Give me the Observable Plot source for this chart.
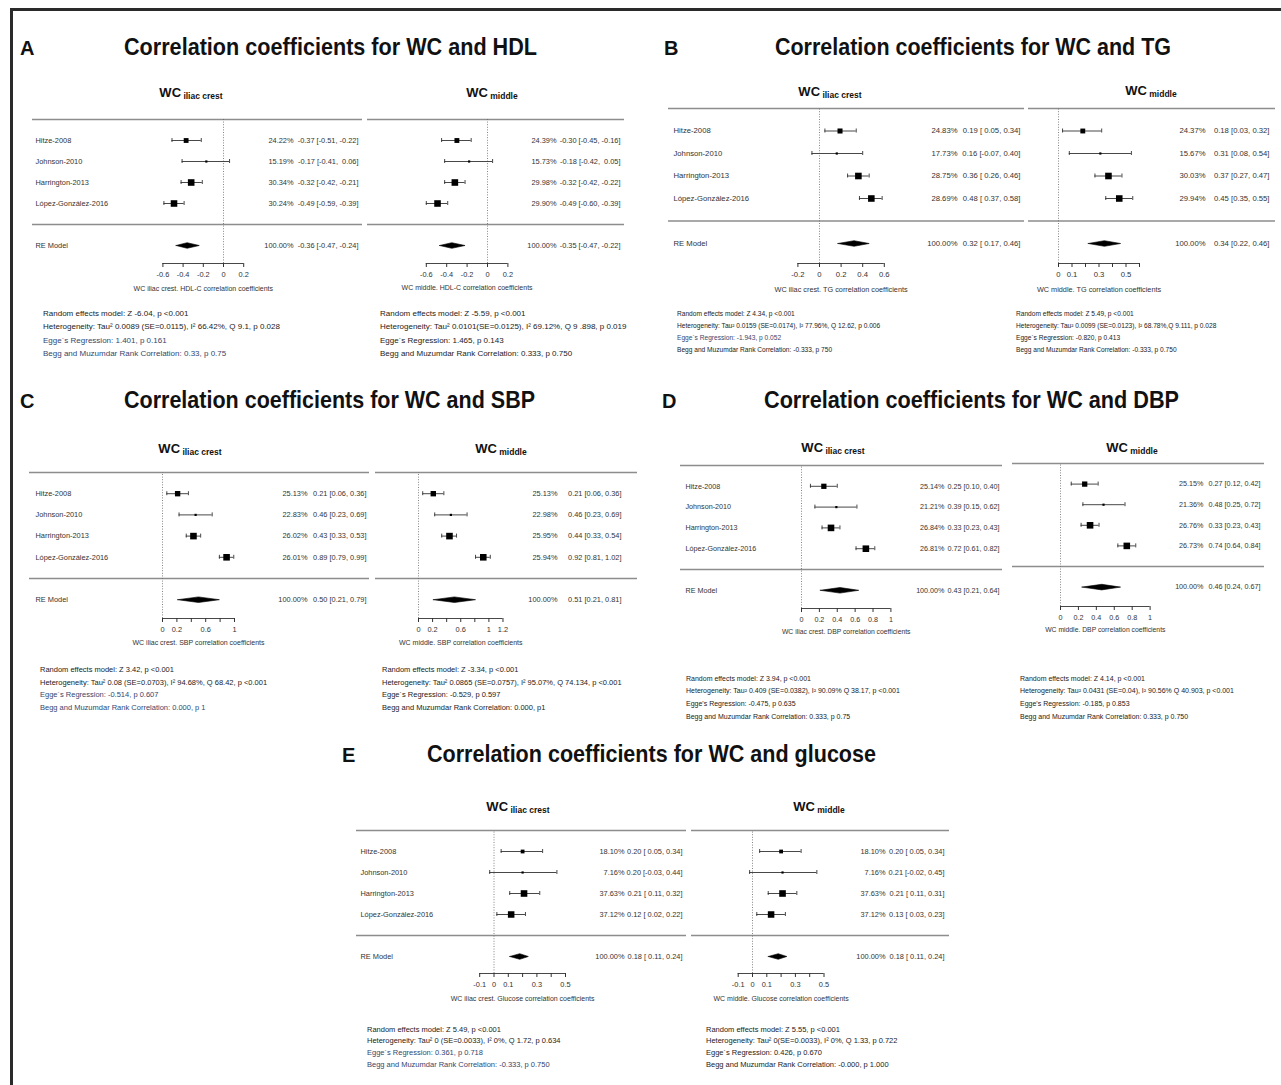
<!DOCTYPE html>
<html><head><meta charset="utf-8">
<script src="https://cdn.jsdelivr.net/npm/d3@7"></script>
<script src="https://cdn.jsdelivr.net/npm/@observablehq/plot@0.6"></script>
<style>
html,body{margin:0;padding:0;background:#fff;}
#root{position:relative;width:1281px;height:1085px;overflow:hidden;background:#fff;font-family:"Liberation Sans",Arial,sans-serif;}
.sub{position:absolute;}
#overlay{position:absolute;left:0;top:0;pointer-events:none;}
</style></head><body><div id="root"></div>
<script>
// ---------- DATA ----------
const studies = ["Hitze-2008", "Johnson-2010", "Harrington-2013", "López-González-2016"];
const summaryLabel = "RE Model";
// rows: [weight %, r, lower CI, upper CI]; last row = RE model
const hdlIliac  = [[24.22,-0.37,-0.51,-0.22],[15.19,-0.17,-0.41,0.06],[30.34,-0.32,-0.42,-0.21],[30.24,-0.49,-0.59,-0.39],[100,-0.36,-0.47,-0.24]];
const hdlMiddle = [[24.39,-0.30,-0.45,-0.16],[15.73,-0.18,-0.42,0.05],[29.98,-0.32,-0.42,-0.22],[29.90,-0.49,-0.60,-0.39],[100,-0.35,-0.47,-0.22]];
const tgIliac   = [[24.83,0.19,0.05,0.34],[17.73,0.16,-0.07,0.40],[28.75,0.36,0.26,0.46],[28.69,0.48,0.37,0.58],[100,0.32,0.17,0.46]];
const tgMiddle  = [[24.37,0.18,0.03,0.32],[15.67,0.31,0.08,0.54],[30.03,0.37,0.27,0.47],[29.94,0.45,0.35,0.55],[100,0.34,0.22,0.46]];
const sbpIliac  = [[25.13,0.21,0.06,0.36],[22.83,0.46,0.23,0.69],[26.02,0.43,0.33,0.53],[26.01,0.89,0.79,0.99],[100,0.50,0.21,0.79]];
const sbpMiddle = [[25.13,0.21,0.06,0.36],[22.98,0.46,0.23,0.69],[25.95,0.44,0.33,0.54],[25.94,0.92,0.81,1.02],[100,0.51,0.21,0.81]];
const dbpIliac  = [[25.14,0.25,0.10,0.40],[21.21,0.39,0.15,0.62],[26.84,0.33,0.23,0.43],[26.81,0.72,0.61,0.82],[100,0.43,0.21,0.64]];
const dbpMiddle = [[25.15,0.27,0.12,0.42],[21.36,0.48,0.25,0.72],[26.76,0.33,0.23,0.43],[26.73,0.74,0.64,0.84],[100,0.46,0.24,0.67]];
const gluIliac  = [[18.10,0.20,0.05,0.34],[7.16,0.20,-0.03,0.44],[37.63,0.21,0.11,0.32],[37.12,0.12,0.02,0.22],[100,0.18,0.11,0.24]];
const gluMiddle = [[18.10,0.20,0.05,0.34],[7.16,0.21,-0.02,0.45],[37.63,0.21,0.11,0.31],[37.12,0.13,0.03,0.23],[100,0.18,0.11,0.24]];

const ticksHdl = [-0.6,-0.4,-0.2,0,0.2];
const ticksTgIliac = [-0.2,0,0.2,0.4,0.6];
const ticksTgMiddle = [0,0.1,0.2,0.3,0.4,0.5,0.6];
const labelsTgMiddle = [0,0.1,0.3,0.5];
const ticksSbpIliac = [0,0.2,0.4,0.6,0.8,1];
const labelsSbpIliac = [0,0.2,0.6,1];
const ticksSbpMiddle = [0,0.2,0.4,0.6,0.8,1,1.2];
const labelsSbpMiddle = [0,0.2,0.6,1,1.2];
const ticksDbp = [0,0.2,0.4,0.6,0.8,1];
const ticksGlu = [-0.1,0,0.1,0.2,0.3,0.4,0.5];
const labelsGlu = [-0.1,0,0.1,0.3,0.5];

const panelLetters = ["A","B","C","D","E"];
const panelTitles = ["Correlation coefficients for WC and HDL","Correlation coefficients for WC and TG","Correlation coefficients for WC and SBP","Correlation coefficients for WC and DBP","Correlation coefficients for WC and glucose"];
const subHeads = ["iliac crest","middle"];
const axisTitlesIliac = ["WC iliac crest. HDL-C correlation coefficients","WC iliac crest. TG correlation coefficients","WC iliac crest. SBP correlation coefficients","WC iliac crest. DBP correlation coefficients","WC iliac crest. Glucose correlation coefficients"];
const axisTitlesMiddle = ["WC middle. HDL-C correlation coefficients","WC middle. TG correlation coefficients","WC middle. SBP correlation coefficients","WC middle. DBP correlation coefficients","WC middle. Glucose correlation coefficients"];

const statsHdlIliac = ["Random effects model: Z -6.04, p <0.001","Heterogeneity: Tau² 0.0089 (SE=0.0115), I² 66.42%, Q 9.1, p 0.028","Egge´s Regression: 1.401, p 0.161","Begg and Muzumdar Rank Correlation: 0.33, p 0.75"];
const statsHdlMiddle = ["Random effects model: Z -5.59, p <0.001","Heterogeneity: Tau² 0.0101(SE=0.0125), I² 69.12%, Q 9 .898, p 0.019","Egge´s Regression: 1.465, p 0.143","Begg and Muzumdar Rank Correlation: 0.333, p 0.750"];
const statsTgIliac = ["Random effects model: Z 4.34, p <0.001","Heterogeneity: Tau² 0.0159 (SE=0.0174), I² 77.96%, Q 12.62, p 0.006","Egge´s Regression: -1.943, p 0.052","Begg and Muzumdar Rank Correlation: -0.333, p 750"];
const statsTgMiddle = ["Random effects model: Z 5.49, p <0.001","Heterogeneity: Tau² 0.0099 (SE=0.0123), I² 68.78%,Q 9.111, p 0.028","Egge´s Regression: -0.820, p 0.413","Begg and Muzumdar Rank Correlation: -0.333, p 0.750"];
const statsSbpIliac = ["Random effects model: Z 3.42, p <0.001","Heterogeneity: Tau² 0.08 (SE=0.0703), I² 94.68%, Q  68.42, p <0.001","Egge´s Regression: -0.514, p 0.607","Begg and Muzumdar Rank Correlation: 0.000, p 1"];
const statsSbpMiddle = ["Random effects model: Z -3.34, p <0.001","Heterogeneity: Tau² 0.0865 (SE=0.0757), I² 95.07%, Q 74.134, p <0.001","Egge´s Regression: -0.529, p 0.597","Begg and Muzumdar Rank Correlation: 0.000, p1"];
const statsDbpIliac = ["Random effects model: Z 3.94, p <0.001","Heterogeneity: Tau² 0.409 (SE=0.0382), I² 90.09% Q 38.17, p <0.001","Egge's Regression: -0.475, p 0.635","Begg and Muzumdar Rank Correlation: 0.333, p 0.75"];
const statsDbpMiddle = ["Random effects model: Z 4.14, p <0.001","Heterogeneity: Tau² 0.0431 (SE=0.04), I² 90.56% Q 40.903, p <0.001","Egge's Regression: -0.185, p 0.853","Begg and Muzumdar Rank Correlation: 0.333, p 0.750"];
const statsGluIliac = ["Random effects model: Z 5.49, p <0.001","Heterogeneity: Tau² 0 (SE=0.0033), I² 0%, Q 1.72, p 0.634","Egge´s Regression: 0.361, p 0.718","Begg and Muzumdar Rank Correlation: -0.333, p 0.750"];
const statsGluMiddle = ["Random effects model: Z 5.55, p <0.001","Heterogeneity: Tau² 0(SE=0.0033), I² 0%, Q 1.33, p 0.722","Egge´s Regression: 0.426, p 0.670","Begg and Muzumdar Rank Correlation: -0.000, p 1.000"];

// ---------- LAYOUT ----------
const panelLayout = [
  {lx:20, tx0:124, tx1:537, base:55},
  {lx:664, tx0:775, tx1:1171, base:55},
  {lx:20, tx0:124, tx1:535, base:408},
  {lx:662, tx0:764, tx1:1179, base:408},
  {lx:342, tx0:427, tx1:876, base:762}
];
const subplots = [
  {rows:hdlIliac, ticks:ticksHdl, labels:ticksHdl, axisTitle:axisTitlesIliac[0], stats:statsHdlIliac, head:subHeads[0], names:true,
   x0:32, x1:362, zero:223, ppu:101, yTop:119, rowH:21, yAxis:263, nameX:35, wEnd:293, ciEnd:358, hx:191, hy:97, sx:43, sy:316, sdy:13.3, sfs:8, blue:[2,3], fs:7.4, tdy:25},
  {rows:hdlMiddle, ticks:ticksHdl, labels:ticksHdl, axisTitle:axisTitlesMiddle[0], stats:statsHdlMiddle, head:subHeads[1], names:false,
   x0:367, x1:624, zero:487, ppu:102, yTop:119, rowH:21, yAxis:263, wEnd:556, ciEnd:620, hx:492, hy:97, sx:380, sy:316, sdy:13.3, sfs:8, blue:[], fs:7.4, tdy:24},
  {rows:tgIliac, ticks:ticksTgIliac, labels:ticksTgIliac, axisTitle:axisTitlesIliac[1], stats:statsTgIliac, head:subHeads[0], names:true,
   x0:668, x1:1024, zero:819, ppu:108, yTop:108, rowH:22.5, yAxis:263, nameX:673, wEnd:957, ciEnd:1020, hx:830, hy:96, sx:677, sy:315.5, sdy:12, sfs:6.6, blue:[2], fs:7.7, tdy:26},
  {rows:tgMiddle, ticks:ticksTgMiddle, labels:labelsTgMiddle, axisTitle:axisTitlesMiddle[1], stats:statsTgMiddle, head:subHeads[1], names:false,
   x0:1028, x1:1275, zero:1058, ppu:135, yTop:108, rowH:22.5, yAxis:263, wEnd:1205, ciEnd:1269, hx:1151, hy:95, sx:1016, sy:315.5, sdy:12, sfs:6.6, blue:[], fs:7.7, tdy:26},
  {rows:sbpIliac, ticks:ticksSbpIliac, labels:labelsSbpIliac, axisTitle:axisTitlesIliac[2], stats:statsSbpIliac, head:subHeads[0], names:true,
   x0:29, x1:369, zero:162, ppu:72, yTop:472, rowH:21.2, yAxis:618, nameX:35, wEnd:307, ciEnd:366, hx:190, hy:453, sx:40, sy:672, sdy:12.7, sfs:7.5, blue:[2,3], fs:7.4, tdy:24},
  {rows:sbpMiddle, ticks:ticksSbpMiddle, labels:labelsSbpMiddle, axisTitle:axisTitlesMiddle[2], stats:statsSbpMiddle, head:subHeads[1], names:false,
   x0:375, x1:637, zero:418, ppu:70.4, yTop:472, rowH:21.2, yAxis:618, wEnd:557, ciEnd:621, hx:501, hy:453, sx:382, sy:672, sdy:12.7, sfs:7.5, blue:[], fs:7.4, tdy:24},
  {rows:dbpIliac, ticks:ticksDbp, labels:ticksDbp, axisTitle:axisTitlesIliac[3], stats:statsDbpIliac, head:subHeads[0], names:true,
   x0:680, x1:1002, zero:801, ppu:89.4, yTop:465, rowH:20.8, yAxis:608, nameX:685, wEnd:944, ciEnd:999, hx:833, hy:452, sx:686, sy:680.5, sdy:12.8, sfs:7, blue:[], fs:7.2, tdy:23},
  {rows:dbpMiddle, ticks:ticksDbp, labels:ticksDbp, axisTitle:axisTitlesMiddle[3], stats:statsDbpMiddle, head:subHeads[1], names:false,
   x0:1012, x1:1264, zero:1060, ppu:89.6, yTop:463, rowH:20.6, yAxis:606, wEnd:1203, ciEnd:1260, hx:1132, hy:452, sx:1020, sy:680.5, sdy:12.8, sfs:7, blue:[], fs:7.2, tdy:23},
  {rows:gluIliac, ticks:ticksGlu, labels:labelsGlu, axisTitle:axisTitlesIliac[4], stats:statsGluIliac, head:subHeads[0], names:true,
   x0:356, x1:686, zero:493.5, ppu:143, yTop:830, rowH:21, yAxis:973, nameX:360, wEnd:624, ciEnd:682, hx:518, hy:811, sx:367, sy:1031.5, sdy:11.7, sfs:7.5, blue:[2,3], fs:7.4, tdy:25},
  {rows:gluMiddle, ticks:ticksGlu, labels:labelsGlu, axisTitle:axisTitlesMiddle[4], stats:statsGluMiddle, head:subHeads[1], names:false,
   x0:691, x1:949, zero:752, ppu:143, yTop:830, rowH:21, yAxis:973, wEnd:885, ciEnd:944, hx:819, hy:811, sx:706, sy:1031.5, sdy:11.7, sfs:7.5, blue:[], fs:7.4, tdy:25}
];

const FONT = '"Liberation Sans", Arial, Helvetica, sans-serif';
const root = document.getElementById("root");

function forest(c) {
  const mt = 4, mb = 36;
  const W = c.x1 - c.x0, H = mt + (c.yAxis - c.yTop) + mb;
  const yMin = 5 - (c.yAxis - c.yTop) / c.rowH;
  const data = c.rows.map(([w, est, lo, hi], i) => ({w, est, lo, hi, row: i < 4 ? 4 - i : -1, name: i < 4 ? studies[i] : summaryLabel, summary: i === 4}));
  const st = data.filter(d => !d.summary), re = data.find(d => d.summary);
  const wMin = d3.min(st, d => d.w), wMax = d3.max(st, d => d.w);
  const side = d => 4.4 * (0.5 + (d.w - wMin) / (wMax - wMin));
  const pad = arr => { const s = arr.map(v => v.toFixed(2)); const m = d3.max(s, t => t.length); return s.map(t => "\u00A0".repeat(m - t.length) + t); };
  const e = pad(data.map(d => d.est)), l = pad(data.map(d => d.lo)), h = pad(data.map(d => d.hi));
  data.forEach((d, i) => { d.ci = `${e[i]} [${l[i]}, ${h[i]}]`; d.wt = d.w.toFixed(2) + "%"; });
  const cap = 2 / c.rowH, dh = 2.8 / c.rowH;
  const diamond = [{x: re.lo, y: -1}, {x: re.est, y: -1 + dh}, {x: re.hi, y: -1}, {x: re.est, y: -1 - dh}, {x: re.lo, y: -1}];
  const tMin = d3.min(c.ticks), tMax = d3.max(c.ticks);
  const plot = Plot.plot({
    width: W, height: H, marginLeft: 0, marginRight: 0, marginTop: mt, marginBottom: mb,
    x: {domain: [(c.x0 - c.zero) / c.ppu, (c.x1 - c.zero) / c.ppu], label: null},
    y: {domain: [yMin, 5], axis: null},
    r: {type: "identity"},
    style: {background: "transparent", fontFamily: FONT, fontSize: c.fs + "px", color: "#333", overflow: "visible"},
    marks: [
      Plot.ruleY([5, 0], {stroke: "#8d8d8d", strokeWidth: 1.6}),
      Plot.ruleX([0], {y1: yMin, y2: 5, stroke: "#666", strokeWidth: 0.8, strokeDasharray: "1,1.6"}),
      Plot.ruleY(st, {y: "row", x1: "lo", x2: "hi", stroke: "#333", strokeWidth: 0.9}),
      Plot.ruleX(st, {x: "lo", y1: d => d.row - cap, y2: d => d.row + cap, stroke: "#333", strokeWidth: 0.9}),
      Plot.ruleX(st, {x: "hi", y1: d => d.row - cap, y2: d => d.row + cap, stroke: "#333", strokeWidth: 0.9}),
      Plot.dot(st, {x: "est", y: "row", r: d => side(d) / Math.sqrt(Math.PI), symbol: "square", fill: "#000", stroke: "none"}),
      Plot.line(diamond, {x: "x", y: "y", fill: "#000", stroke: "#000", strokeWidth: 0.6}),
      c.names ? Plot.text(data, {y: "row", text: "name", frameAnchor: "left", textAnchor: "start", dx: c.nameX - c.x0, fill: "#333"}) : null,
      Plot.text(data, {y: "row", text: "wt", frameAnchor: "right", textAnchor: "end", dx: c.wEnd - c.x1, fill: "#333"}),
      Plot.text(data, {y: "row", text: "ci", frameAnchor: "right", textAnchor: "end", dx: c.ciEnd - c.x1, fill: "#333"}),
      Plot.ruleY([yMin], {x1: tMin, x2: tMax, stroke: "#333", strokeWidth: 0.9}),
      Plot.axisX(c.ticks, {anchor: "bottom", tickSize: 4, tickPadding: 4, tickFormat: d => c.labels.includes(d) ? String(d) : "", label: null, stroke: "#333", fill: "#333", fontSize: c.fs}),
      Plot.text([c.axisTitle], {x: (tMin + tMax) / 2, y: yMin, dy: c.tdy, text: d => d, fontSize: c.fs - 0.4, fill: "#333"})
    ]
  });
  const div = document.createElement("div");
  div.className = "sub";
  div.style.left = c.x0 + "px";
  div.style.top = (c.yTop - mt) + "px";
  div.appendChild(plot);
  root.appendChild(div);
}
subplots.forEach(forest);

// ---------- OVERLAY: titles, headers, stats, border ----------
const svg = d3.select(root).append("svg").attr("id", "overlay").attr("width", 1281).attr("height", 1085)
  .style("font-family", FONT);
svg.append("line").attr("x1", 10).attr("x2", 1281).attr("y1", 9.5).attr("y2", 9.5).attr("stroke", "#2a2a2a").attr("stroke-width", 3);
svg.append("line").attr("x1", 11.5).attr("x2", 11.5).attr("y1", 8).attr("y2", 1085).attr("stroke", "#2a2a2a").attr("stroke-width", 3);

panelLayout.forEach((p, i) => {
  svg.append("text").attr("x", p.lx).attr("y", p.base).attr("font-size", 20).attr("font-weight", "bold").attr("fill", "#111").text(panelLetters[i]);
  svg.append("text").attr("x", p.tx0).attr("y", p.base).attr("font-size", 24).attr("font-weight", "bold")
    .attr("font-family", '"Liberation Sans Narrow", "Arial Narrow", ' + FONT)
    .attr("textLength", p.tx1 - p.tx0).attr("lengthAdjust", "spacingAndGlyphs").attr("fill", "#111").text(panelTitles[i]);
});

subplots.forEach(c => {
  const t = svg.append("text").attr("x", c.hx).attr("y", c.hy).attr("text-anchor", "middle").attr("font-weight", "bold").attr("fill", "#111");
  t.append("tspan").attr("font-size", 13).text("WC");
  t.append("tspan").attr("font-size", 8.5).attr("dy", 2).text(" " + c.head);
  c.stats.forEach((s, k) => {
    svg.append("text").attr("x", c.sx).attr("y", c.sy + k * c.sdy).attr("font-size", c.sfs)
      .attr("fill", c.blue.includes(k) ? "#34466e" : "#222").text(s);
  });
});
</script></body></html>
